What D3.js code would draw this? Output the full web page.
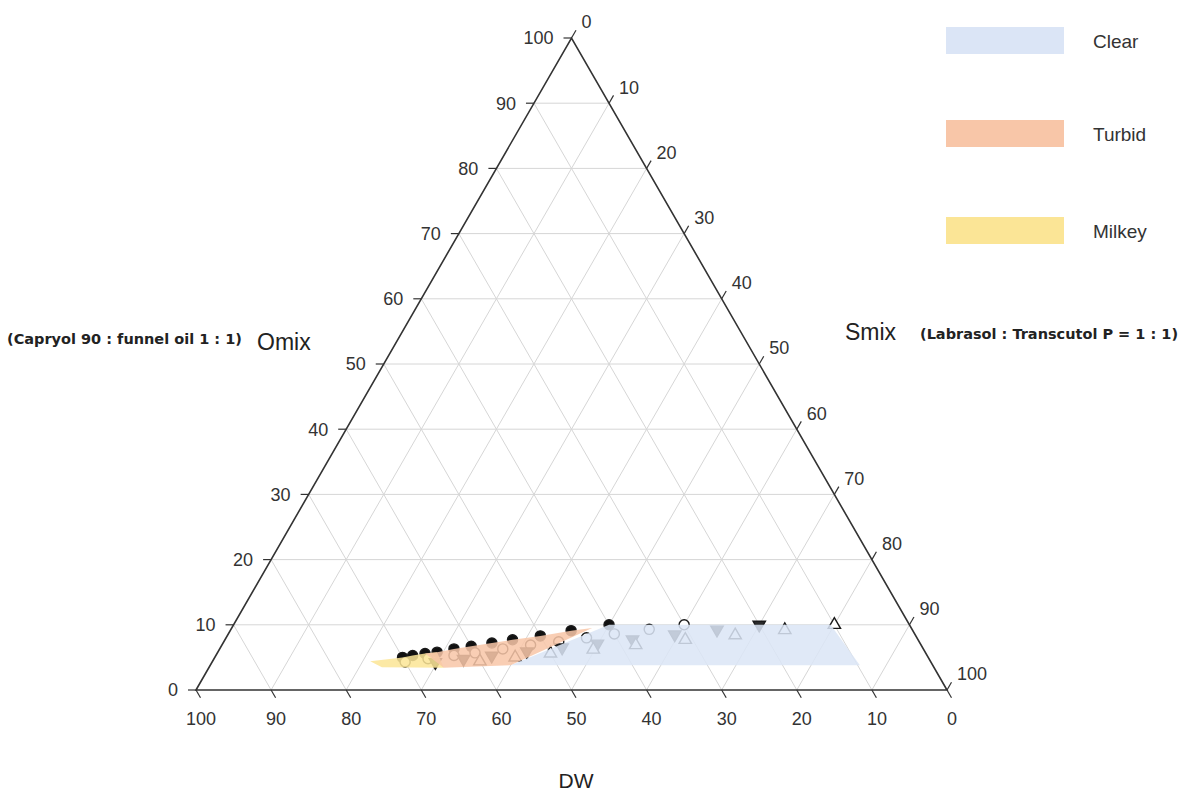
<!DOCTYPE html>
<html>
<head>
<meta charset="utf-8">
<script src="https://cdn.jsdelivr.net/npm/d3@7"></script>
<style>
  body { margin: 0; background: #fff; }
  text { font-family: "Liberation Sans", Arial, sans-serif; }
</style>
</head>
<body>
<div id="chart"></div>
<script>
var width = 1184, height = 795;

// every point is [Omix, Smix, DW] in %
var tickValues = [0, 10, 20, 30, 40, 50, 60, 70, 80, 90, 100];

var seriesOS15 = [[5,25,70],[5.3,26.2,68.5],[5.6,27.7,66.7],[5.8,29.2,65],[6.3,31.2,62.5],[6.7,33.3,60],
                  [7.2,35.8,57],[7.7,38.3,54],[8.3,41.7,50],[9.1,45.4,45.5],[10,50,40]];
var seriesOS16 = [[4.3,25.7,70],[4.8,28.5,66.7],[5.3,31.7,63],[5.7,34.3,60],[6.3,37.7,56],[6.9,41.1,52],
                  [7.4,44.6,48],[8,48,44],[8.6,51.4,40],[9.3,55.7,35],[10,60,30]];
var seriesOS17 = [[4.25,29.75,66],[4.75,33.25,62],[5.25,36.75,58],[5.9,41.1,53],[6.5,45.5,48],
                  [7.1,49.9,43],[7.75,54.25,38],[8.5,59.5,32],[9.25,64.75,26],[10,70,20]];
var seriesOS18 = [[4.4,35.6,60],[5,40,55],[5.6,44.4,50],[6.2,49.8,44],[6.9,55.1,38],[7.7,61.3,31],
                  [8.4,67.6,24],[9.2,73.8,17],[10,80,10]];

var clearZone  = [[10,50,40],[10,79.5,10.5],[3.8,86.5,9.7],[3.8,40,56.2]];
var turbidZone = [[5.6,27.7,66.7],[5.8,29.2,65],[6.3,31.2,62.5],[6.7,33.3,60],[7.2,35.8,57],[7.7,38.3,54],
                  [8.3,41.7,50],[9.1,45.4,45.5],[9.5,48,42.5],[3.8,40,56.2],[3.4,31.3,65.3]];
var milkeyZone = [[4.4,21,74.6],[5,25,70],[5.3,26.2,68.5],[5.6,27.7,66.7],[5.8,29.2,65],
                  [3.4,31.3,65.3],[3.5,23,73.5]];

var legendNames  = ["Clear", "Turbid", "Milkey"];
var legendColors = ["#dbe5f6", "#f8c6a8", "#fbe596"];

var svg = d3.select("#chart").append("svg")
  .attr("width", width)
  .attr("height", height);

// ternary: height follows Omix, horizontal follows Smix + Omix/2
var xScale = d3.scaleLinear().domain([0, 100]).range([196, 947]);
var yScale = d3.scaleLinear().domain([0, 100]).range([690, 38]);

function proj(p){
  var t = p[0] + p[1] + p[2];
  var o = p[0] * 100 / t, s = p[1] * 100 / t;
  return [xScale(s + o / 2), yScale(o)];
}

var grid = svg.append("g").attr("stroke", "#d6d6d6").attr("stroke-width", 1);
tickValues.slice(1, -1).forEach(function(v){
  var lines = [
    [[v, 0, 100 - v], [v, 100 - v, 0]],
    [[0, v, 100 - v], [100 - v, v, 0]],
    [[100 - v, 0, v], [0, 100 - v, v]]
  ];
  lines.forEach(function(l){
    var a = proj(l[0]), b = proj(l[1]);
    grid.append("line").attr("x1", a[0]).attr("y1", a[1]).attr("x2", b[0]).attr("y2", b[1]);
  });
});

// markers
var seriesList = [
  {data: seriesOS15, shape: d3.symbolCircle, fill: "#111", rot: 0},
  {data: seriesOS16, shape: d3.symbolCircle, fill: "#fff", rot: 0},
  {data: seriesOS17, shape: d3.symbolTriangle, fill: "#2a2a2a", rot: 180},
  {data: seriesOS18, shape: d3.symbolTriangle, fill: "#fff", rot: 0}
];
seriesList.forEach(function(sr){
  svg.append("g").selectAll("path")
    .data(sr.data)
    .enter()
    .append("path")
    .attr("d", d3.symbol().type(sr.shape).size(sr.shape == d3.symbolCircle ? 80 : 66))
    .attr("transform", function(d){
      var p = proj(d);
      return "translate(" + p[0] + "," + p[1] + ") rotate(" + sr.rot + ")";
    })
    .attr("fill", sr.fill)
    .attr("stroke", "#1a1a1a")
    .attr("stroke-width", 1.4);
});

// phase regions drawn over the markers
var zoneLine = d3.line().x(function(d){ return proj(d)[0]; }).y(function(d){ return proj(d)[1]; });
[[clearZone, legendColors[0]], [milkeyZone, legendColors[2]], [turbidZone, legendColors[1]]].forEach(function(z){
  svg.append("path")
    .datum(z[0].concat([z[0][0]]))
    .attr("d", zoneLine)
    .attr("fill", z[1])
    .attr("fill-opacity", 0.86)
    .attr("stroke", "none");
});

// triangle frame
var A = proj([100, 0, 0]), BL = proj([0, 0, 100]), BR = proj([0, 100, 0]);
svg.append("path")
  .attr("d", "M" + BL + "L" + A + "L" + BR + "Z")
  .attr("fill", "none")
  .attr("stroke", "#333")
  .attr("stroke-width", 1.6);

var upRight = [0.5, -0.866], downRight = [0.5, 0.866];
var axisG = svg.append("g");
tickValues.forEach(function(v){
  // Omix, left side
  var p = proj([v, 0, 100 - v]);
  axisG.append("line").attr("x1", p[0]).attr("y1", p[1]).attr("x2", p[0] - 8).attr("y2", p[1])
    .attr("stroke", "#333").attr("stroke-width", 1.2);
  axisG.append("text").attr("x", p[0] - 18).attr("y", p[1]).attr("dy", "0.35em")
    .attr("text-anchor", "end").attr("font-size", "18px").attr("fill", "#333").text(v);
  // Smix, right side
  p = proj([100 - v, v, 0]);
  axisG.append("line").attr("x1", p[0]).attr("y1", p[1])
    .attr("x2", p[0] + upRight[0] * 9).attr("y2", p[1] + upRight[1] * 9)
    .attr("stroke", "#333").attr("stroke-width", 1.2);
  axisG.append("text").attr("x", p[0] + 10).attr("y", p[1] - 16).attr("dy", "0.35em")
    .attr("text-anchor", "start").attr("font-size", "18px").attr("fill", "#333").text(v);
  // DW, bottom
  p = proj([0, 100 - v, v]);
  axisG.append("line").attr("x1", p[0]).attr("y1", p[1])
    .attr("x2", p[0] + downRight[0] * 9).attr("y2", p[1] + downRight[1] * 9)
    .attr("stroke", "#333").attr("stroke-width", 1.2);
  axisG.append("text").attr("x", p[0] + 5).attr("y", p[1] + 29).attr("dy", "0.35em")
    .attr("text-anchor", "middle").attr("font-size", "18px").attr("fill", "#333").text(v);
});

// axis titles
svg.append("text").attr("x", 257).attr("y", 342).attr("dy", "0.35em")
  .attr("font-size", "23px").attr("fill", "#222").text("Omix");
svg.append("text").attr("x", 845).attr("y", 332).attr("dy", "0.35em")
  .attr("font-size", "23px").attr("fill", "#222").text("Smix");
svg.append("text").attr("x", 576).attr("y", 781).attr("dy", "0.35em")
  .attr("text-anchor", "middle").attr("font-size", "21px").attr("fill", "#222").text("DW");

svg.append("text").attr("x", 7).attr("y", 339).attr("dy", "0.35em")
  .style("font-family", "'DejaVu Sans', sans-serif")
  .attr("font-size", "14.5px").attr("font-weight", "bold").attr("fill", "#222")
  .text("(Capryol 90 : funnel oil 1 : 1)");
svg.append("text").attr("x", 920).attr("y", 334).attr("dy", "0.35em")
  .style("font-family", "'DejaVu Sans', sans-serif")
  .attr("font-size", "14.5px").attr("font-weight", "bold").attr("fill", "#222")
  .text("(Labrasol : Transcutol  P = 1 : 1)");

// legend
var legend = svg.selectAll(".leg")
  .data(legendNames)
  .enter()
  .append("g")
  .attr("class", "leg")
  .attr("transform", function(d, i){ return "translate(946," + [27, 120, 217][i] + ")"; });
legend.append("rect")
  .attr("width", 118).attr("height", 27)
  .attr("fill", function(d, i){ return legendColors[i]; });
legend.append("text")
  .attr("x", 147).attr("y", 14).attr("dy", "0.35em")
  .attr("font-size", "19px").attr("fill", "#333")
  .text(function(d){ return d; });
</script>
</body>
</html>
